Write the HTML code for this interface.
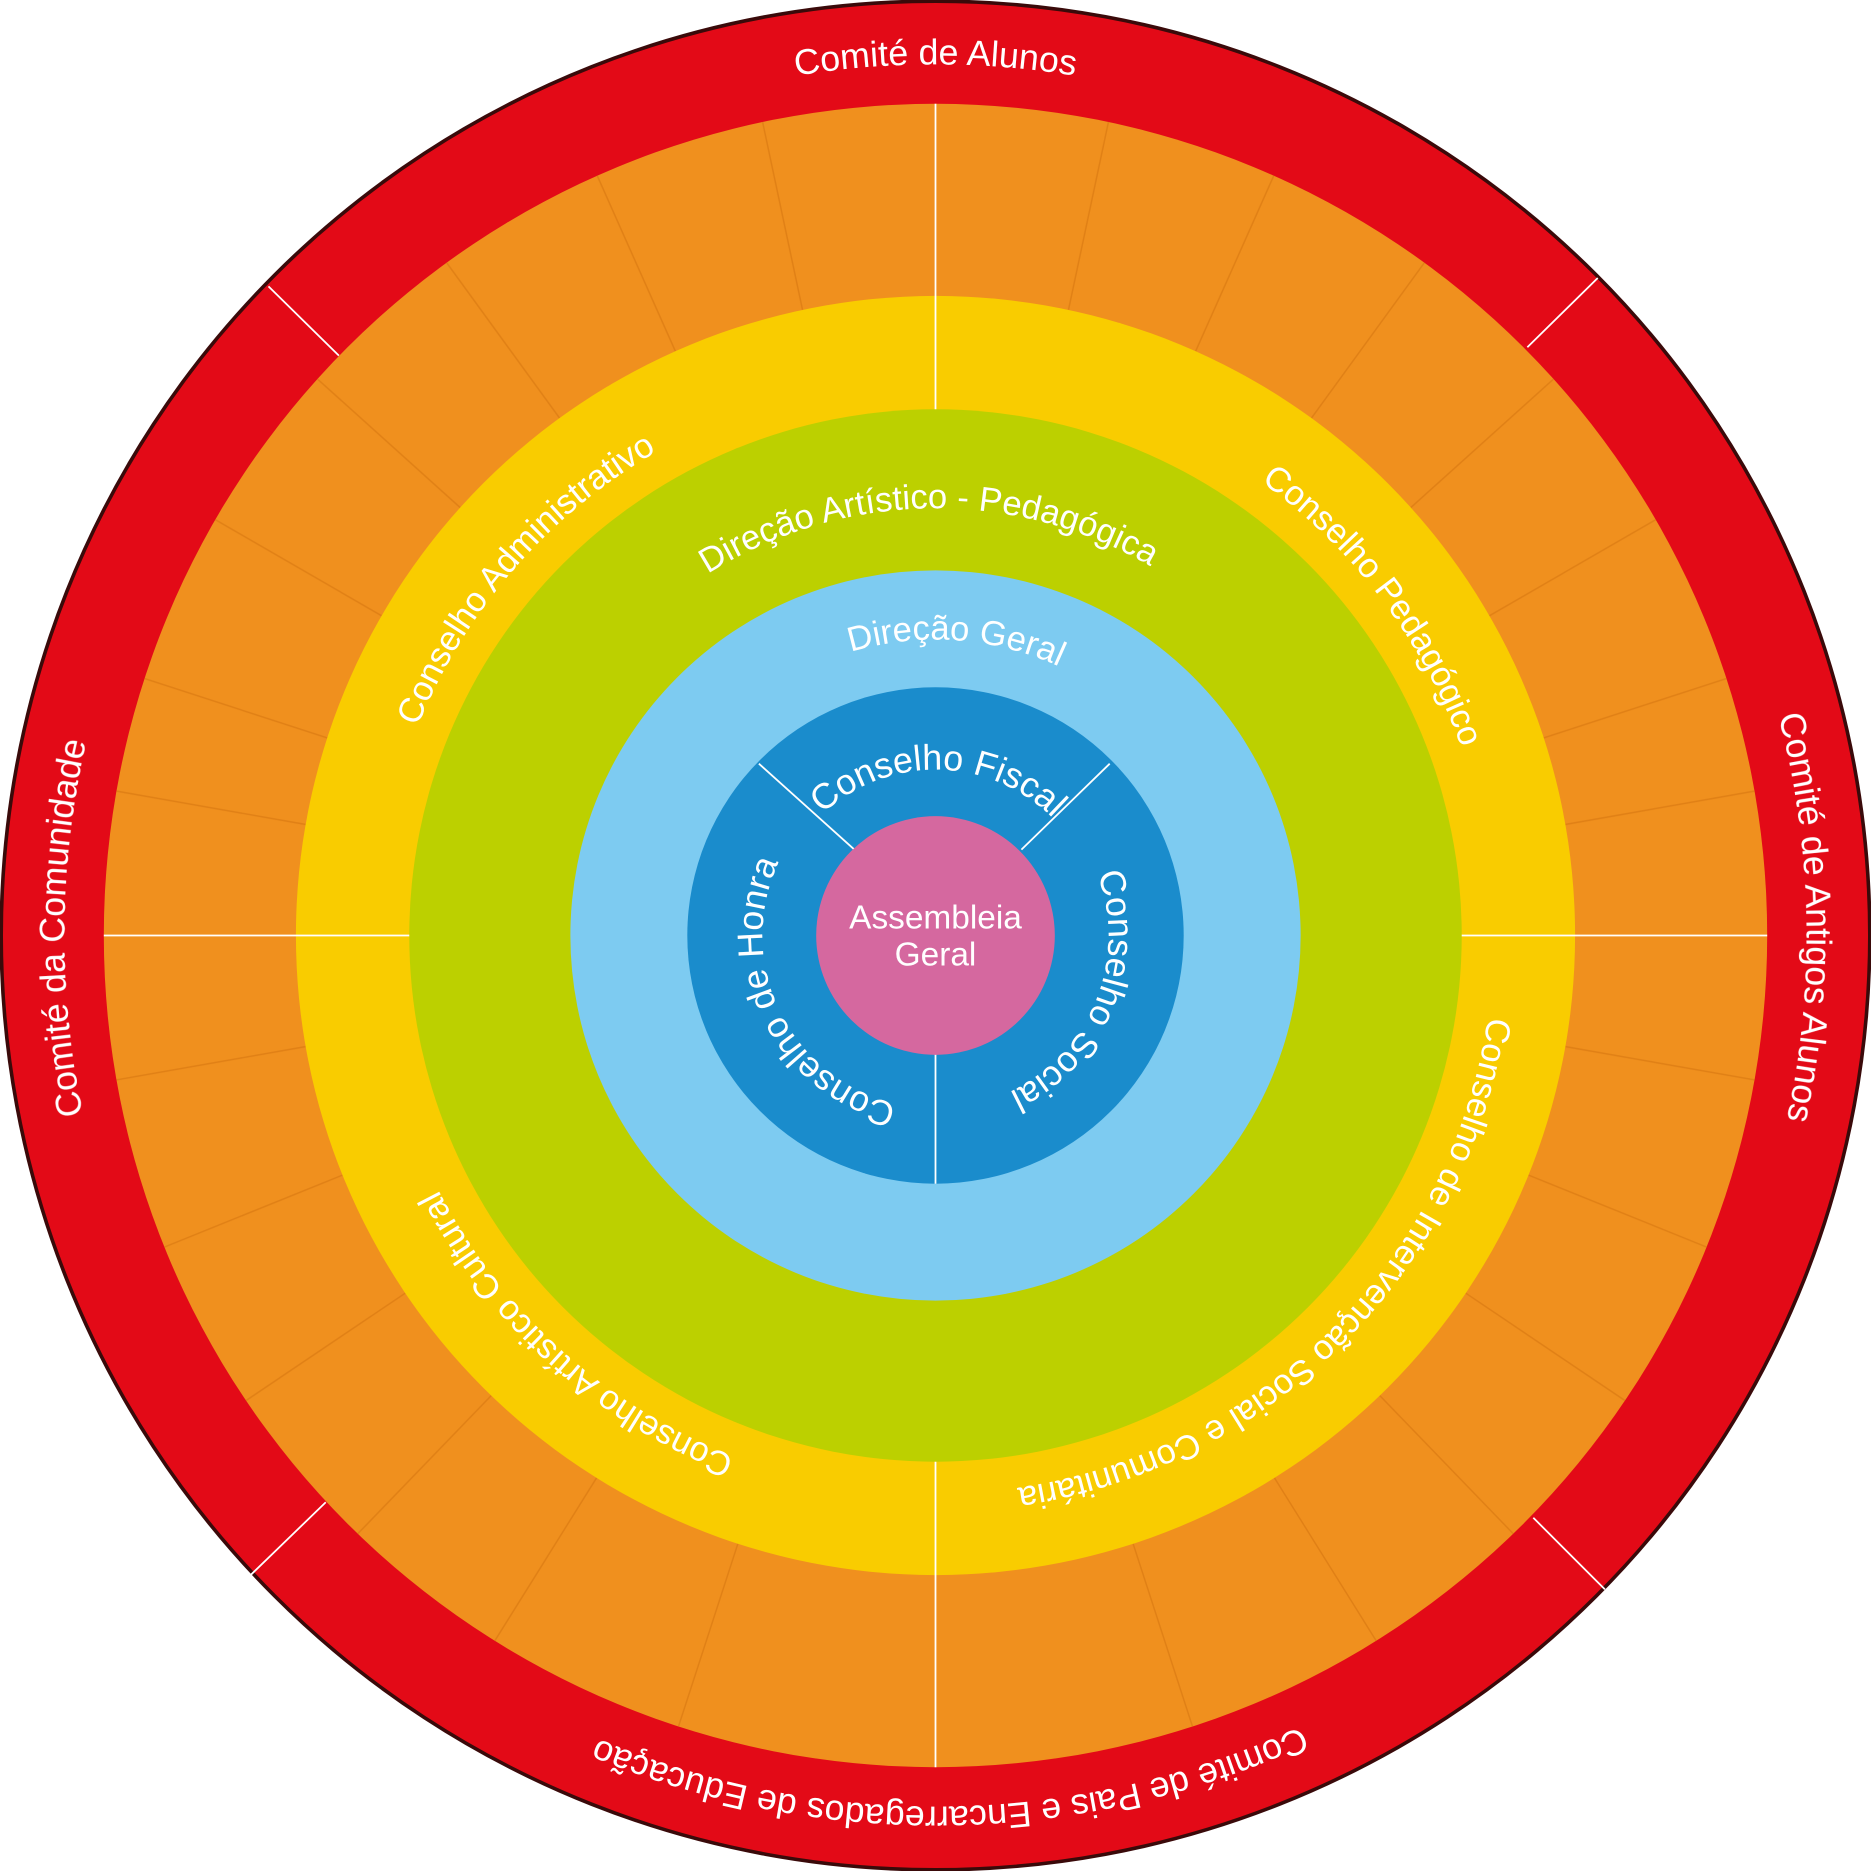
<!DOCTYPE html>
<html><head><meta charset="utf-8">
<style>
html,body{margin:0;padding:0;background:#fff;}
svg{display:block;}
text{font-family:"Liberation Sans",sans-serif;fill:#fff;}
</style></head>
<body>
<svg width="1871" height="1871" viewBox="0 0 1568 1568" xmlns="http://www.w3.org/2000/svg">
<defs>
<path id="p730" d="M784,1514 A730,730 0 1 1 784,54 A730,730 0 1 1 784,1514"/>
<path id="p468" d="M784,1252 A468,468 0 1 1 784,316 A468,468 0 1 1 784,1252"/>
<path id="p358" d="M784,1142 A358,358 0 1 1 784,426 A358,358 0 1 1 784,1142"/>
<path id="p248" d="M784,1032 A248,248 0 1 1 784,536 A248,248 0 1 1 784,1032"/>
<path id="p139" d="M784,923 A139,139 0 1 1 784,645 A139,139 0 1 1 784,923"/>
<path id="p145" d="M784,929 A145,145 0 1 1 784,639 A145,145 0 1 1 784,929"/>
</defs>
<circle cx="784" cy="784" r="783" fill="#e30a17" stroke="#3a0a0a" stroke-width="3"/>
<circle cx="784" cy="784" r="697" fill="#f0901e"/>
<g stroke="#d97a14" stroke-width="1.2" opacity="0.7">
<g id="rl"><line x1="784" y1="248" x2="784" y2="87"/></g>
<use href="#rl" transform="rotate(12 784 784)"/><use href="#rl" transform="rotate(-12 784 784)"/>
<use href="#rl" transform="rotate(24 784 784)"/><use href="#rl" transform="rotate(-24 784 784)"/>
<use href="#rl" transform="rotate(36 784 784)"/><use href="#rl" transform="rotate(-36 784 784)"/>
<use href="#rl" transform="rotate(48 784 784)"/><use href="#rl" transform="rotate(-48 784 784)"/>
<use href="#rl" transform="rotate(60 784 784)"/><use href="#rl" transform="rotate(-60 784 784)"/>
<use href="#rl" transform="rotate(72 784 784)"/><use href="#rl" transform="rotate(-72 784 784)"/>
<use href="#rl" transform="rotate(80 784 784)"/><use href="#rl" transform="rotate(-80 784 784)"/>
<use href="#rl" transform="rotate(100 784 784)"/><use href="#rl" transform="rotate(-100 784 784)"/>
<use href="#rl" transform="rotate(112 784 784)"/><use href="#rl" transform="rotate(-112 784 784)"/>
<use href="#rl" transform="rotate(124 784 784)"/><use href="#rl" transform="rotate(-124 784 784)"/>
<use href="#rl" transform="rotate(136 784 784)"/><use href="#rl" transform="rotate(-136 784 784)"/>
<use href="#rl" transform="rotate(148 784 784)"/><use href="#rl" transform="rotate(-148 784 784)"/>
<use href="#rl" transform="rotate(162 784 784)"/><use href="#rl" transform="rotate(-162 784 784)"/>
</g>
<circle cx="784" cy="784" r="536" fill="#f9cc00"/>
<circle cx="784" cy="784" r="441" fill="#bcd000"/>
<circle cx="784" cy="784" r="306" fill="#7dcbf1"/>
<circle cx="784" cy="784" r="208" fill="#1a8ccc"/>
<g stroke="#fff" stroke-width="1.5">
<line x1="784" y1="87" x2="784" y2="343"/>
<line x1="87" y1="784" x2="343" y2="784"/>
<line x1="1225" y1="784" x2="1481" y2="784"/>
<line x1="784" y1="1225" x2="784" y2="1481"/>
<line x1="225" y1="240" x2="284" y2="298"/>
<line x1="1339" y1="233" x2="1280" y2="291"/>
<line x1="210" y1="1320" x2="273" y2="1259"/>
<line x1="1345" y1="1332" x2="1285" y2="1272"/>
<line x1="636" y1="640" x2="716" y2="712"/>
<line x1="930" y1="640" x2="856" y2="712"/>
<line x1="784" y1="880" x2="784" y2="992"/>
</g>
<circle cx="784" cy="784" r="100" fill="#d5689f"/>
<text x="784" y="778" font-size="28" text-anchor="middle">Assembleia</text>
<text x="784" y="809" font-size="28" text-anchor="middle">Geral</text>

<g font-size="30">
<text><textPath href="#p730" startOffset="50%" text-anchor="middle">Comité de Alunos</textPath></text>
<g transform="rotate(88.8 784 784)"><text><textPath href="#p730" startOffset="50%" text-anchor="middle">Comité de Antigos Alunos</textPath></text></g>
<g transform="rotate(179 784 784)"><text><textPath href="#p730" startOffset="50%" text-anchor="middle">Comité de Pais e Encarregados de Educação</textPath></text></g>
<g transform="rotate(270.5 784 784)"><text><textPath href="#p730" startOffset="50%" text-anchor="middle">Comité da Comunidade</textPath></text></g>
</g>
<g font-size="29">
<g transform="rotate(-49 784 784)"><text><textPath href="#p468" startOffset="50%" text-anchor="middle">Conselho Administrativo</textPath></text></g>
<g transform="rotate(53 784 784)"><text><textPath href="#p468" startOffset="50%" text-anchor="middle">Conselho Pedagógico</textPath></text></g>
<g transform="rotate(135 784 784)"><text><textPath href="#p468" startOffset="50%" text-anchor="middle">Conselho de Intervenção Social e Comunitária</textPath></text></g>
<g transform="rotate(222 784 784)"><text><textPath href="#p468" startOffset="50%" text-anchor="middle">Conselho Artístico Cultural</textPath></text></g>
<g transform="rotate(-1 784 784)"><text><textPath href="#p358" startOffset="50%" text-anchor="middle">Direção Artístico - Pedagógica</textPath></text></g>
<g transform="rotate(4 784 784)"><text><textPath href="#p248" startOffset="50%" text-anchor="middle">Direção Geral</textPath></text></g>
</g>
<g font-size="30">
<g transform="rotate(1 784 784)"><text><textPath href="#p139" startOffset="50%" text-anchor="middle">Conselho Fiscal</textPath></text></g>
<g transform="rotate(112 784 784)"><text><textPath href="#p145" startOffset="50%" text-anchor="middle">Conselho Social</textPath></text></g>
<g transform="rotate(244 784 784)"><text><textPath href="#p145" startOffset="50%" text-anchor="middle">Conselho de Honra</textPath></text></g>
</g>
</svg>
</body></html>
